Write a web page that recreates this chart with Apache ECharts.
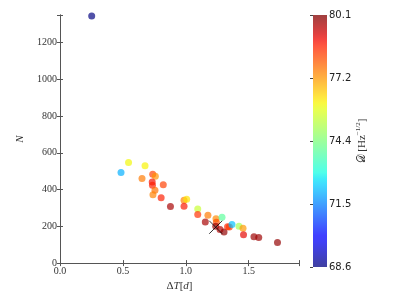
<!DOCTYPE html>
<html><head><meta charset="utf-8">
<script src="https://cdn.jsdelivr.net/npm/echarts@6/dist/echarts.min.js"></script>
<style>html,body{margin:0;padding:0;background:#fff}#c{width:399px;height:297px}</style>
</head><body><div id="c"></div>
<script>
// Data
var dT = [0.252,0.485,0.545,0.676,0.652,0.737,0.758,0.733,0.735,0.821,0.755,0.739,0.804,0.878,0.986,1.007,0.986,1.095,1.095,1.176,1.155,1.240,1.243,1.288,1.238,1.272,1.304,1.332,1.346,1.367,1.423,1.455,1.459,1.542,1.580,1.729];
var N  = [1345,493,547,530,460,484,473,441,423,427,397,372,355,308,342,348,310,294,265,261,224,241,222,249,201,183,169,198,197,210,201,190,154,143,139,112];
var D  = [68.6,72.0,76.0,76.1,77.6,78.3,77.3,78.9,78.7,78.3,77.7,77.5,78.7,79.7,77.5,76.3,78.8,75.4,78.5,77.6,79.7,77.4,78.1,73.9,79.8,79.6,79.9,78.6,78.4,72.2,74.9,77.2,79.1,79.8,79.8,79.9];
var markerPt = [1.238, 195];
var xTicks = [0, 0.5, 1.0, 1.5];
var yTicks = [0, 200, 400, 600, 800, 1000, 1200];
var cbTickLabels = ['68.6', '71.5', '74.4', '77.2', '80.1'];
var dMin = 68.6, dMax = 80.1;

// jet colormap (matplotlib) stops
function jet(t, a){
  function seg(pts){ for(var i=1;i<pts.length;i++){ if(t<=pts[i][0]){ var p=pts[i-1],q=pts[i]; return p[1]+(q[1]-p[1])*(t-p[0])/(q[0]-p[0]); } } return pts[pts.length-1][1]; }
  var r=seg([[0,0],[0.35,0],[0.66,1],[0.89,1],[1,0.5]]);
  var g=seg([[0,0],[0.125,0],[0.375,1],[0.64,1],[0.91,0],[1,0]]);
  var b=seg([[0,0.5],[0.11,1],[0.34,1],[0.65,0],[1,0]]);
  return 'rgba('+Math.round(r*255)+','+Math.round(g*255)+','+Math.round(b*255)+','+a+')';
}
var jetColors=[], barStops=[];
for(var i=0;i<=40;i++){ jetColors.push(jet(i/40,0.85)); barStops.push({offset:1-i/40,color:jet(i/40,0.75)}); }

var pts = dT.map(function(x,i){return [x, N[i], D[i]];});
var axisCol = '#555';
var serif = 'Liberation Serif';

var chart = echarts.init(document.getElementById('c'), null, {renderer:'canvas'});
chart.setOption({
  animation:false,
  grid:[{left:60, top:15, width:239, height:252.5},{left:313, top:15, width:14, height:252}],
  xAxis:[
    {type:'value', gridIndex:0, min:0, max:1.9, interval:0.5, position:'bottom',
     name:'{a|Δ}{i|T}{a|[}{i|d}{a|]}', nameLocation:'middle', nameGap:15,
     nameTextStyle:{rich:{a:{fontFamily:serif,fontSize:11,color:'#333'},i:{fontFamily:serif,fontStyle:'italic',fontSize:11,color:'#333'}}},
     axisLine:{lineStyle:{color:axisCol,width:1}}, axisTick:{inside:true,length:3,lineStyle:{color:axisCol}},
     axisLabel:{fontFamily:serif,fontSize:10,color:'#333',margin:3,formatter:function(v){return xTicks.indexOf(Math.round(v*10)/10)>=0? v.toFixed(1):'';}},
     splitLine:{show:false}},
    {type:'value', gridIndex:0, min:0, max:1.9, interval:0.5, position:'top',
     axisLine:{lineStyle:{color:axisCol,width:1}}, axisTick:{inside:true,length:3,lineStyle:{color:axisCol}},
     axisLabel:{show:false}, splitLine:{show:false}},
    {type:'value', gridIndex:1, show:false, min:0, max:1}
  ],
  yAxis:[
    {type:'value', gridIndex:0, min:0, max:1350, interval:200, position:'left',
     name:'N', nameLocation:'middle', nameGap:27, nameRotate:90,
     nameTextStyle:{fontFamily:serif,fontStyle:'italic',fontSize:11,color:'#333'},
     axisLine:{lineStyle:{color:axisCol,width:1}}, axisTick:{inside:true,length:3,lineStyle:{color:axisCol}},
     axisLabel:{fontFamily:serif,fontSize:10,color:'#333',margin:3,formatter:function(v){return yTicks.indexOf(v)>=0? String(v):'';}},
     splitLine:{show:false}},
    {type:'value', gridIndex:0, min:0, max:1350, interval:200, position:'right',
     axisLine:{lineStyle:{color:axisCol,width:1}}, axisTick:{inside:true,length:3,lineStyle:{color:axisCol}},
     axisLabel:{show:false}, splitLine:{show:false}},
    {type:'value', gridIndex:1, min:0, max:4, interval:1, position:'right',
     axisLine:{show:false}, axisTick:{inside:true,length:3,lineStyle:{color:'#444'}},
     axisLabel:{fontFamily:'DejaVu Sans',fontSize:10,color:'#222',margin:2,formatter:function(v){return cbTickLabels[v]||'';}},
     splitLine:{show:false}}
  ],
  visualMap:{type:'continuous', show:false, min:dMin, max:dMax, dimension:2, seriesIndex:0,
    inRange:{color:jetColors}},
  series:[
    {type:'scatter', xAxisIndex:0, yAxisIndex:0, data:pts, symbolSize:7, z:3},
    {type:'scatter', xAxisIndex:0, yAxisIndex:0, data:[markerPt], symbol:'path://M0,0L10,10M10,0L0,10', symbolSize:13,
     itemStyle:{color:'rgba(0,0,0,0)', borderColor:'#000', borderWidth:1}, z:4}
  ],
  graphic:[
    {type:'rect', shape:{x:313, y:15, width:14, height:252}, z:0,
     style:{fill:new echarts.graphic.LinearGradient(0,0,0,1,barStops)}},
    {type:'text', x:362, y:141, rotation:Math.PI/2,
    style:{text:'{n|𝒟 [Hz}{s|−1/2}{n|]}', align:'center', verticalAlign:'middle',
      rich:{n:{fontFamily:serif,fontSize:11,fill:'#333'}, s:{fontFamily:serif,fontSize:7,fill:'#333',padding:[0,0,7,0]}}}}]
});
</script></body></html>
